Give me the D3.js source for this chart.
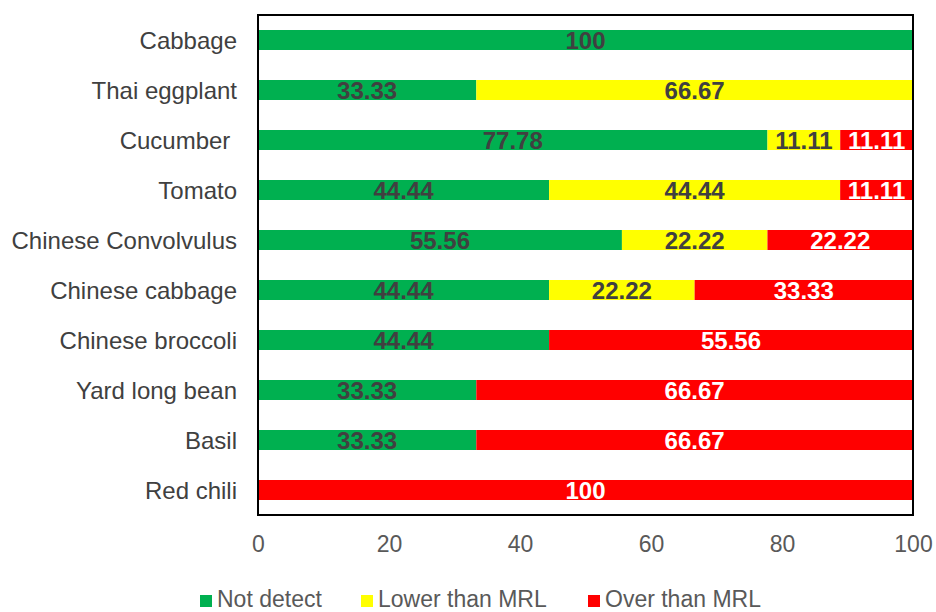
<!DOCTYPE html>
<html>
<head>
<meta charset="utf-8">
<script src="https://cdn.jsdelivr.net/npm/d3@7"></script>
<style>
  body { margin: 0; background: #fff; }
  svg text { font-family: "Liberation Sans", Arial, sans-serif; white-space: pre; }
</style>
</head>
<body>
<svg id="chart" width="936" height="612"></svg>
<script>
// Vegetable categories, top to bottom
const categories = ["Cabbage", "Thai eggplant", "Cucumber ", "Tomato", "Chinese Convolvulus",
  "Chinese cabbage", "Chinese broccoli", "Yard long bean", "Basil", "Red chili"];
// Percentage of samples in each residue class
const notDetect = [100, 33.33, 77.78, 44.44, 55.56, 44.44, 44.44, 33.33, 33.33, 0];
const lowerThanMRL = [0, 66.67, 11.11, 44.44, 22.22, 22.22, 0, 0, 0, 0];
const overThanMRL = [0, 0, 11.11, 11.11, 22.22, 33.33, 55.56, 66.67, 66.67, 100];
const seriesNames = ["Not detect", "Lower than MRL", "Over than MRL"];
const seriesColors = ["#00B050", "#FFFF00", "#FF0000"];
const labelColors = ["#404040", "#404040", "#FFFFFF"];
const xTicks = [0, 20, 40, 60, 80, 100];

const svg = d3.select("#chart");
const plot = { left: 258, right: 913, top: 15, bottom: 515 };

const x = d3.scaleLinear().domain([0, 100]).range([plot.left, plot.right]);
const y = d3.scaleBand().domain(categories).range([plot.top, plot.bottom]).paddingInner(0.6).paddingOuter(0.3);

const rows = categories.map((c, i) => ({ cat: c, v0: notDetect[i], v1: lowerThanMRL[i], v2: overThanMRL[i] }));
const stack = d3.stack().keys(["v0", "v1", "v2"])(rows);

const fmt = v => Number.isInteger(v) ? String(v) : v.toFixed(2);

stack.forEach((layer, si) => {
  const g = svg.append("g");
  g.selectAll("rect").data(layer).join("rect")
    .attr("x", d => x(d[0]))
    .attr("y", d => y(d.data.cat))
    .attr("width", d => x(d[1]) - x(d[0]))
    .attr("height", y.bandwidth())
    .attr("fill", seriesColors[si]);
  g.selectAll("text").data(layer.filter(d => d[1] - d[0] > 0)).join("text")
    .attr("x", d => (x(d[0]) + x(d[1])) / 2)
    .attr("y", d => y(d.data.cat) + y.bandwidth() / 2)
    .attr("dy", "0.36em")
    .attr("text-anchor", "middle")
    .attr("font-size", 24)
    .attr("font-weight", "bold")
    .attr("fill", labelColors[si])
    .text(d => fmt(d[1] - d[0]));
});

// Plot frame
svg.append("rect")
  .attr("x", plot.left).attr("y", plot.top)
  .attr("width", plot.right - plot.left).attr("height", plot.bottom - plot.top)
  .attr("fill", "none").attr("stroke", "#000").attr("stroke-width", 2);

// Category labels
svg.append("g").selectAll("text").data(categories).join("text")
  .attr("x", 237)
  .attr("y", d => y(d) + y.bandwidth() / 2)
  .attr("dy", "0.36em")
  .attr("text-anchor", "end")
  .attr("font-size", 24)
  .attr("fill", "#404040")
  .text(d => d);

// X axis
const xAxis = svg.append("g")
  .attr("transform", `translate(0,${plot.bottom})`)
  .call(d3.axisBottom(x).tickValues(xTicks).tickSize(0).tickPadding(21));
xAxis.select(".domain").remove();
xAxis.selectAll("text")
  .attr("font-size", 23)
  .attr("font-family", "Liberation Sans, Arial, sans-serif")
  .attr("fill", "#595959");

// Legend
const legendX = [200, 361, 588];
const legend = svg.append("g");
seriesNames.forEach((name, i) => {
  legend.append("rect")
    .attr("x", legendX[i]).attr("y", 595)
    .attr("width", 12).attr("height", 12)
    .attr("fill", seriesColors[i]);
  legend.append("text")
    .attr("x", legendX[i] + 17).attr("y", 607)
    .attr("font-size", 23)
    .attr("fill", "#595959")
    .text(name);
});
</script>
</body>
</html>
